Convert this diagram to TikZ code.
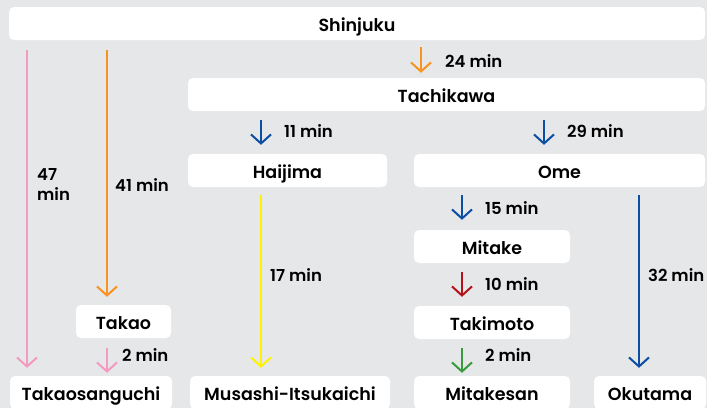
\documentclass[tikz,border=0pt]{standalone}
\usepackage{fontspec}
\setmainfont{Poppins}[UprightFont={* SemiBold}]
\usetikzlibrary{arrows.meta}
\definecolor{bg}{HTML}{E6E7E9}
\definecolor{cpink}{HTML}{F49AC1}
\definecolor{corange}{HTML}{F7931E}
\definecolor{cblue}{HTML}{0B4EA2}
\definecolor{cyellow}{HTML}{FFF200}
\definecolor{cred}{HTML}{B5121B}
\definecolor{cgreen}{HTML}{3A9A3E}
\tikzset{
  stn/.style={fill=white, rounded corners=5pt, minimum height=33pt, inner sep=0pt, font=\fontsize{17.5}{20}\selectfont, text=black, text height=1.62em, text depth=0.04em},
  lbl/.style={anchor=west, inner sep=0pt, font=\fontsize{16.5}{19}\selectfont, text=black, text height=1.16em, text depth=0.04em},
  conn/.style={line width=2pt, -{Straight Barb[length=9pt,width=20pt,line width=2pt]}},
}
\begin{document}
\begin{tikzpicture}[x=1pt,y=-1pt]
\fill[bg] (0,0) rectangle (707,408);
\useasboundingbox (0,0) rectangle (707,408);
% stations
\node[stn, minimum width=696pt] (shinjuku) at (357,23.5) {Shinjuku};
\node[stn, minimum width=517pt] (tachikawa) at (446.5,94.5) {Tachikawa};
\node[stn, minimum width=199pt] (haijima) at (287.5,170.5) {Haijima};
\node[stn, minimum width=291pt] (ome) at (559.5,170.5) {Ome};
\node[stn, minimum width=156pt] (mitake) at (492,246.5) {Mitake};
\node[stn, minimum width=156pt] (takimoto) at (492,322.5) {Takimoto};
\node[stn, minimum width=95pt] (takao) at (123.5,321.5) {Takao};
\node[stn, minimum width=162pt] (takaosanguchi) at (91,392.5) {Takaosanguchi};
\node[stn, minimum width=200pt] (musashi) at (290,392.5) {Musashi-Itsukaichi};
\node[stn, minimum width=156pt] (mitakesan) at (492,392.5) {Mitakesan};
\node[stn, minimum width=112pt] (okutama) at (650,392.5) {Okutama};
% connectors
\draw[conn, cpink, shorten <=10pt, shorten >=8pt] (27,0 |- shinjuku.south) -- (27,0 |- takaosanguchi.north);
\draw[conn, corange, shorten <=10pt, shorten >=8pt] (107,0 |- shinjuku.south) -- (107,0 |- takao.north);
\draw[conn, corange, shorten <=7pt, shorten >=5pt] (421,0 |- shinjuku.south) -- (421,0 |- tachikawa.north);
\draw[conn, cblue, shorten <=9pt, shorten >=9pt] (261,0 |- tachikawa.south) -- (261,0 |- haijima.north);
\draw[conn, cblue, shorten <=9pt, shorten >=9pt] (544,0 |- tachikawa.south) -- (544,0 |- ome.north);
\draw[conn, cyellow, shorten <=8pt, shorten >=8pt] (261,0 |- haijima.south) -- (261,0 |- musashi.north);
\draw[conn, cblue, shorten <=8pt, shorten >=8pt] (639,0 |- ome.south) -- (639,0 |- okutama.north);
\draw[conn, cblue, shorten <=8pt, shorten >=10pt] (462,0 |- ome.south) -- (462,0 |- mitake.north);
\draw[conn, cred, shorten <=9pt, shorten >=9pt] (462,0 |- mitake.south) -- (462,0 |- takimoto.north);
\draw[conn, cgreen, shorten <=9pt, shorten >=3pt] (462,0 |- takimoto.south) -- (462,0 |- mitakesan.north);
\draw[conn, cpink, shorten <=10pt, shorten >=3pt] (107,0 |- takao.south) -- (107,0 |- takaosanguchi.north);
% labels
\node[lbl] (l47) at (37,175) {47};
\node[lbl] (l47b) at (37,195) {min};
\node[lbl] (l41) at (115,186) {41 min};
\node[lbl] (l24) at (445,62) {24 min};
\node[lbl] (l11) at (284,132) {11 min};
\node[lbl] (l29) at (567,132) {29 min};
\node[lbl] (l17) at (270,276) {17 min};
\node[lbl] (l15) at (485,209) {15 min};
\node[lbl] (l32) at (648,276) {32 min};
\node[lbl] (l10) at (485,285) {10 min};
\node[lbl] (l2a) at (485,356) {2 min};
\node[lbl] (l2b) at (122,356) {2 min};
\end{tikzpicture}
\end{document}
